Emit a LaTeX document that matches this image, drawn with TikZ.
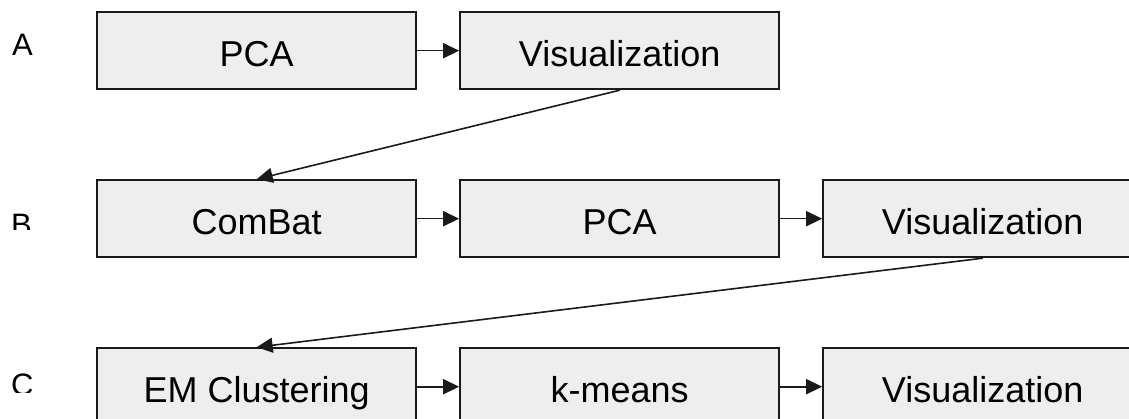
\documentclass[tikz,border=0pt]{standalone}
\usepackage{fontspec}
\setmainfont{Liberation Sans}
\usetikzlibrary{matrix,arrows.meta}
\definecolor{boxfill}{HTML}{EEEEEE}
\definecolor{boxline}{HTML}{1A1A1A}

\tikzset{
  stage/.style={draw=boxline, line width=2pt, fill=boxfill,
    minimum width=319pt, minimum height=77pt, inner sep=0pt,
    text height=35pt, text depth=4pt,
    font=\fontsize{36}{43}\selectfont},
  flow/.style={draw=boxline, line width=1.6pt, -{Triangle[length=16pt,width=15pt]}},
  rowlabel/.style={inner sep=0pt, anchor=base west, font=\fontsize{31}{37}\selectfont},
}

\begin{document}
\begin{tikzpicture}[x=1pt,y=1pt,ampersand replacement=\&]
  \clip (0,0) rectangle (1129,-419);
  \matrix (p)[
    matrix of nodes,
    nodes={stage},
    column sep=42pt,
    row sep=89pt,
    inner sep=0pt,
    anchor=north west,
  ] at (96,-11) {
    PCA           \& Visualization \&               \\
    ComBat        \& PCA           \& Visualization \\
    EM Clustering \& k-means       \& Visualization \\
  };

  % row labels, cut off as in the original
  \node[rowlabel] (la) at (12,-56) {A};
  \begin{scope}
    \clip (0,-190) rectangle (90,-230);
    \node[rowlabel] (lb) at (11,-236) {B};
  \end{scope}
  \begin{scope}
    \clip (0,-360) rectangle (90,-392);
    \node[rowlabel] (lc) at (11,-395) {C};
  \end{scope}

  \draw[flow] (p-1-1) -- (p-1-2);
  \draw[flow] (p-1-2.south) -- (p-2-1.north);
  \draw[flow] (p-2-1) -- (p-2-2);
  \draw[flow] (p-2-2) -- (p-2-3);
  \draw[flow] (p-2-3.south) -- (p-3-1.north);
  \draw[flow] (p-3-1) -- (p-3-2);
  \draw[flow] (p-3-2) -- (p-3-3);
\end{tikzpicture}
\end{document}
